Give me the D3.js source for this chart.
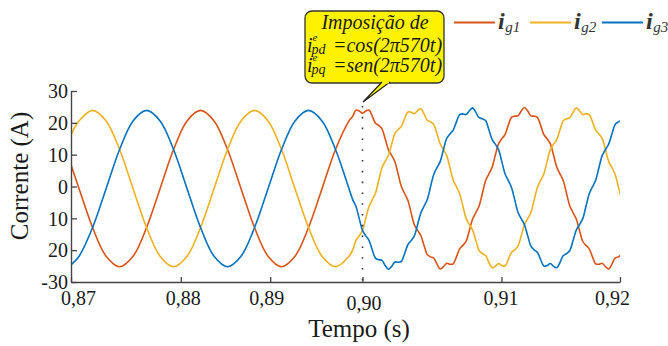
<!DOCTYPE html>
<html><head><meta charset="utf-8">
<script src="https://cdn.jsdelivr.net/npm/d3@7"></script>
<style>
html,body{margin:0;padding:0;background:#fff;}
svg{display:block;}
svg text, svg tspan{font-family:'Liberation Serif','Times New Roman',serif !important;}
</style></head><body>
<svg id="chart" width="668" height="346"></svg>
<script>
// ---- data ----
const time = [0.87, 0.870833, 0.872222, 0.873611, 0.875, 0.876389, 0.877778, 0.879167, 0.880556, 0.881944, 0.883333, 0.884722, 0.886111, 0.8875, 0.888889, 0.890278, 0.891667, 0.893056, 0.894444, 0.895833, 0.897222, 0.898611, 0.899, 0.899333, 0.899667,
  0.9, 0.900333, 0.900667, 0.901, 0.901333, 0.901667, 0.902, 0.902333, 0.902667, 0.903, 0.903333, 0.903667, 0.904, 0.904333, 0.904667, 0.905, 0.905333, 0.905667, 0.906, 0.906333, 0.906667, 0.907, 0.907333, 0.907667, 0.908, 0.908333, 0.908667, 0.909, 0.909333, 0.909667, 0.91, 0.910333, 0.910667, 0.911, 0.911333, 0.911667, 0.912, 0.912333, 0.912667, 0.913, 0.913333, 0.913667, 0.914, 0.914333, 0.914667, 0.915, 0.915333, 0.915667, 0.916, 0.916333, 0.916667, 0.917, 0.917333, 0.917667, 0.918, 0.918333, 0.918667, 0.919, 0.919333, 0.919667, 0.92, 0.920333, 0.920667, 0.921, 0.921333, 0.921667, 0.922, 0.922333, 0.922667, 0.923, 0.923333, 0.923667, 0.924, 0.924333, 0.924667, 0.925, 0.925333, 0.925667, 0.926, 0.926333, 0.926667];

const ig1 = [6.8, -0.7, -12.9, -21.9, -25.2, -21.9, -12.9, -0.7, 11.6, 20.6, 23.9, 20.6, 11.6, -0.7, -12.9, -21.9, -25.2, -21.9, -12.9, -0.7, 11.6, 20.6, 22.1, 24.0, 23.7,
  23.0, 23.7, 24.0, 22.1, 19.9, 19.2, 18.1, 15.0, 11.6, 9.8, 7.8, 3.9, 0.0, -2.2, -4.3, -8.2, -12.0, -13.8, -15.4, -18.5, -21.4, -22.1, -22.5, -24.4, -25.9, -25.2, -24.1, -24.4, -24.3, -22.1, -19.6, -18.5, -17.2, -13.8, -10.2, -8.2, -6.1, -2.2, 1.8, 3.9, 6.0, 9.8, 13.4, 15.0, 16.3, 19.2, 21.7, 22.1, 22.2, 23.7, 24.8, 23.7, 22.2, 22.1, 21.7, 19.2, 16.3, 15.0, 13.4, 9.8, 6.0, 3.9, 1.8, -2.2, -6.1, -8.2, -10.2, -13.8, -17.2, -18.5, -19.6, -22.1, -24.3, -24.4, -24.1, -25.2, -25.9, -24.4, -22.5, -22.1, -21.4];

const ig2 = [16.2, 20.6, 23.9, 20.6, 11.6, -0.7, -12.9, -21.9, -25.2, -21.9, -12.9, -0.7, 11.6, 20.6, 23.9, 20.6, 11.6, -0.7, -12.9, -21.9, -25.2, -21.9, -19.9, -16.9, -15.5,
  -13.8, -10.1, -6.3, -4.2, -2.1, 1.9, 5.8, 7.9, 9.8, 13.3, 16.6, 17.9, 18.9, 21.3, 23.4, 23.3, 22.9, 23.8, 24.4, 22.8, 20.8, 20.3, 19.5, 16.5, 13.3, 11.6, 9.7, 5.9, 2.0, -0.1, -2.3, -6.2, -10.1, -12.0, -13.7, -17.0, -20.1, -21.1, -21.7, -23.8, -25.5, -25.1, -24.2, -24.8, -25.0, -23.0, -20.7, -19.9, -18.7, -15.5, -12.0, -10.1, -8.1, -4.2, -0.3, 1.9, 4.0, 7.9, 11.6, 13.3, 14.8, 17.9, 20.7, 21.3, 21.6, 23.3, 24.7, 23.8, 22.6, 22.8, 22.6, 20.3, 17.7, 16.5, 15.1, 11.6, 7.9, 5.9, 3.8, -0.1, -4.1];

const ig3 = [-24.6, -21.9, -12.9, -0.7, 11.6, 20.6, 23.9, 20.6, 11.6, -0.7, -12.9, -21.9, -25.2, -21.9, -12.9, -0.7, 11.6, 20.6, 23.9, 20.6, 11.6, -0.7, -4.2, -6.3, -10.1,
  -13.8, -15.5, -16.9, -19.9, -22.5, -23.0, -23.2, -24.8, -26.0, -25.1, -23.7, -23.8, -23.5, -21.1, -18.3, -17.0, -15.5, -12.0, -8.3, -6.2, -4.1, -0.1, 3.8, 5.9, 7.9, 11.6, 15.1, 16.5, 17.7, 20.3, 22.6, 22.8, 22.6, 23.8, 24.7, 23.3, 21.6, 21.3, 20.7, 17.9, 14.8, 13.3, 11.6, 7.9, 4.0, 1.9, -0.3, -4.2, -8.1, -10.1, -12.0, -15.5, -18.7, -19.9, -20.7, -23.0, -25.0, -24.8, -24.2, -25.1, -25.5, -23.8, -21.7, -21.1, -20.1, -17.0, -13.7, -12.0, -10.1, -6.2, -2.3, -0.1, 2.0, 5.9, 9.7, 11.6, 13.3, 16.5, 19.5, 20.3, 20.8];

const seriesSubs = ["g1", "g2", "g3"];
const seriesColors = ["#D95319", "#EDB120", "#0072BD"];
const xTickValues = [0.87, 0.8813, 0.8905, 0.9, 0.9143, 0.9265];
const xTickLabels = ["0,87", "0,88", "0,89", "0,90", "0,91", "0,92"];
const yTickValues = [-30, -20, -10, 0, 10, 20, 30];
const yTickLabels = ["-30", "20", "10", "0", "10", "20", "30"];
const eventTime = 0.9;
const xTitle = "Tempo (s)";
const yTitle = "Corrente (A)";
const noteTitle = "Imposição de";
const noteSubs = ["pd", "pq"];
const noteEqs = ["=cos(2π570t)", "=sen(2π570t)"];

// ---- layout ----
const serif = "'Liberation Serif','Times New Roman',serif";
const svg = d3.select("#chart");
const x = d3.scaleLinear().domain([0.87, 0.9265]).range([71, 620]);
const y = d3.scaleLinear().domain([-30, 30]).range([282, 91]);

svg.append("defs").append("clipPath").attr("id", "clip")
  .append("rect").attr("x", 71).attr("y", 80).attr("width", 549).attr("height", 210);

const line = d3.line()
  .x((d, i) => x(time[i]))
  .y(d => y(d))
  .curve(d3.curveCatmullRom.alpha(0.5));

const plot = svg.append("g").attr("clip-path", "url(#clip)");
[ig1, ig2, ig3].forEach((s, i) => {
  plot.append("path").datum(s)
    .attr("d", line)
    .attr("fill", "none")
    .attr("stroke", seriesColors[i])
    .attr("stroke-width", 1.6)
    .attr("stroke-linejoin", "round");
});

// event marker (dotted)
svg.append("line")
  .attr("x1", x(eventTime)).attr("x2", x(eventTime))
  .attr("y1", 106).attr("y2", 281)
  .attr("stroke", "#333").attr("stroke-width", 1.6)
  .attr("stroke-dasharray", "1.6,9.2");

// axes
const axisColor = "#444";
const xAxis = svg.append("g").attr("transform", "translate(0,282)")
  .call(d3.axisBottom(x).tickValues(xTickValues)
    .tickFormat((d, i) => xTickLabels[i]).tickSizeInner(-5).tickSizeOuter(0));
const labelDx = [7, 2, -4, 1, -1, -8];
const labelDy = [23, 23, 23, 28, 23, 23];
xAxis.selectAll(".tick text")
  .attr("dy", null)
  .attr("y", (d, i) => labelDy[i])
  .attr("dx", (d, i) => labelDx[i]);

const yAxis = svg.append("g").attr("transform", "translate(71,0)")
  .call(d3.axisLeft(y).tickValues(yTickValues)
    .tickFormat((d, i) => yTickLabels[i]).tickSizeInner(-6).tickSizeOuter(0));
yAxis.selectAll(".tick text").attr("x", -3).attr("dy", "0.34em");

[xAxis, yAxis].forEach(a => {
  a.attr("font-family", serif).attr("font-size", 20);
  a.select(".domain").attr("stroke", axisColor).attr("stroke-width", 1.4);
  a.selectAll(".tick line").attr("stroke", axisColor).attr("stroke-width", 1.3);
  a.selectAll(".tick text").attr("fill", "#1a1a1a")
    .style("font-family", serif).style("font-size", "20px");
});

// titles
svg.append("text").attr("x", 359).attr("y", 337)
  .attr("text-anchor", "middle").attr("fill", "#1a1a1a")
  .style("font-family", serif).style("font-size", "25px").text(xTitle);
svg.append("text").attr("transform", "translate(28,176) rotate(-90)")
  .attr("text-anchor", "middle").attr("fill", "#1a1a1a")
  .style("font-family", serif).style("font-size", "25px").text(yTitle);

// legend
const legX = [454, 530, 602];
seriesSubs.forEach((s, i) => {
  const g = svg.append("g").attr("transform", `translate(${legX[i]},0)`);
  g.append("line").attr("x1", 0).attr("x2", 41).attr("y1", 22.5).attr("y2", 22.5)
    .attr("stroke", seriesColors[i]).attr("stroke-width", 2);
  const t = g.append("text").attr("x", 44).attr("y", 29).attr("fill", "#333")
    .style("font-family", serif);
  t.append("tspan").style("font-size", "24px").style("font-weight", "bold")
    .style("font-style", "italic").text("i");
  t.append("tspan").attr("dy", 3).attr("dx", 0.5).style("font-size", "15px")
    .style("font-style", "italic").text(s);
});

// annotation callout
const yellow = "#FFF200";
svg.append("rect").attr("x", 305).attr("y", 11).attr("width", 139).attr("height", 72)
  .attr("rx", 7).attr("fill", yellow).attr("stroke", "#333").attr("stroke-width", 1.3);
svg.append("path").attr("d", "M382,82 L363,102 L390,82")
  .attr("fill", yellow).attr("stroke", "#222").attr("stroke-width", 1.2)
  .attr("stroke-linejoin", "miter");
svg.append("rect").attr("x", 382.6).attr("y", 81).attr("width", 6.4).attr("height", 2.5)
  .attr("fill", yellow);

const ann = svg.append("g").attr("fill", "#1a1a1a")
  .style("font-family", serif).style("font-style", "italic");
ann.append("text").attr("x", 375).attr("y", 29).attr("text-anchor", "middle")
  .style("font-size", "20px").text(noteTitle);
const noteBase = [52, 72];
noteSubs.forEach((sub, i) => {
  const b = noteBase[i];
  const t = ann.append("text").attr("x", 307).attr("y", b).style("font-size", "20px");
  t.append("tspan").text("i");
  t.append("tspan").attr("x", 312.5).attr("y", b - 11).style("font-size", "11px").text("e");
  t.append("tspan").attr("x", 311.5).attr("y", b + 1.5).style("font-size", "14px").text(sub);
  t.append("tspan").attr("x", 333).attr("y", b).style("font-size", "20px").text(noteEqs[i]);
});
</script>
</body></html>
